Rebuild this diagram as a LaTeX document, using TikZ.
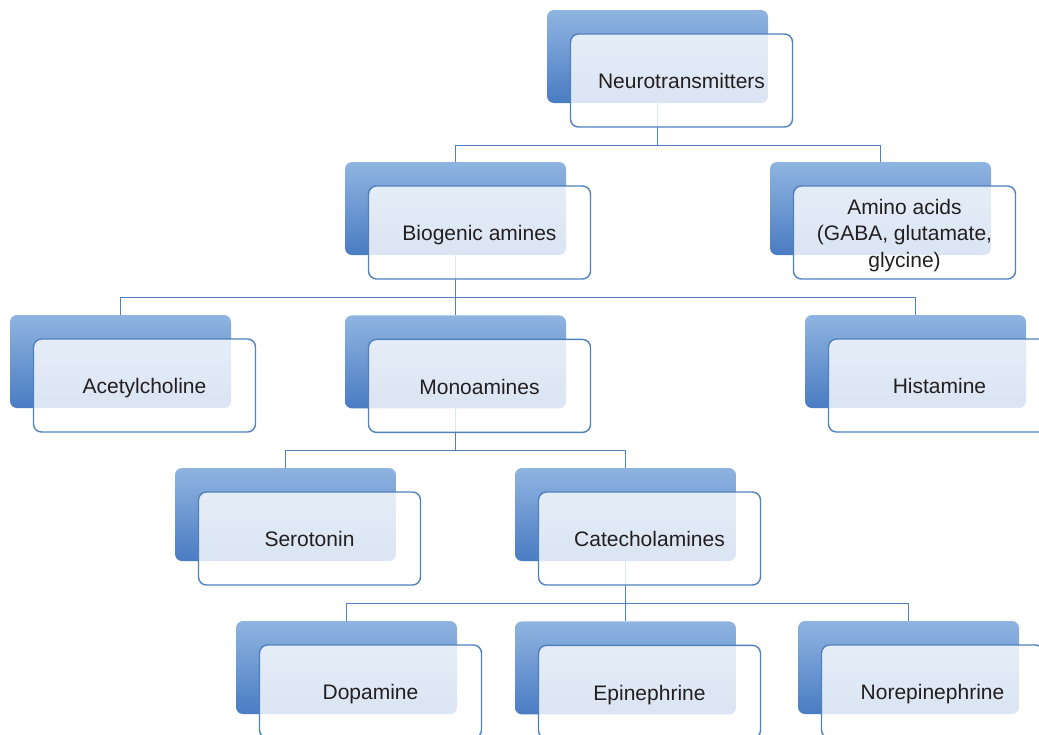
\documentclass[tikz,border=0pt]{standalone}
\usepackage{fontspec}
\setmainfont{Liberation Sans}
\usetikzlibrary{positioning,backgrounds}
\definecolor{boxtop}{HTML}{8FB4E0}
\definecolor{boxbottom}{HTML}{4A7CC3}
\definecolor{edge}{HTML}{4F81BD}
\definecolor{ink}{HTML}{231F20}
\tikzset{
  backbox/.style={top color=boxtop,bottom color=boxbottom,draw=none,rounded corners=7pt,
    minimum width=221pt,minimum height=93pt,inner sep=0pt},
  frontbox/.style={draw=edge,line width=1.4pt,fill=white,fill opacity=0.8,text opacity=1,
    rounded corners=8pt,minimum width=222pt,minimum height=93pt,inner sep=0pt,
    text height=21pt,text depth=4.5pt,
    align=center,font=\fontsize{21}{26.5}\selectfont,text=ink},
  link/.style={draw=edge,line width=1.4pt},
}
\begin{document}
\begin{tikzpicture}[x=1pt,y=1pt]
  \useasboundingbox (0,0) rectangle (1039,-734);

  % shaded back plates
  \node[backbox] (nt) at (657.5,-56.5) {};
  \node[backbox] (bio) at (455.5,-208.5) {};
  \node[backbox] (amino) at (880.5,-208.5) {};
  \node[backbox] (ach) at (120.5,-361.5) {};
  \node[backbox, below=60pt of bio] (mono) {};
  \node[backbox] (hist) at (915.5,-361.5) {};
  \node[backbox] (sero) at (285.5,-514.5) {};
  \node[backbox] (cat) at (625.5,-514.5) {};
  \node[backbox] (dopa) at (346.5,-667.5) {};
  \node[backbox, below=60pt of cat] (epi) {};
  \node[backbox] (norepi) at (908.5,-667.5) {};

  % labelled front cards
  \node[frontbox] (ntF) at ([shift={(24,-24)}]nt) {Neurotransmitters};
  \node[frontbox,text height=74pt,text depth=5pt] (aminoF) at ([shift={(24,-24)}]amino) {Amino acids\\(GABA, glutamate,\\glycine)};
  \node[frontbox] (bioF) at ([shift={(24,-24)}]bio) {Biogenic amines};
  \node[frontbox] (achF) at ([shift={(24,-24)}]ach) {Acetylcholine};
  \node[frontbox] (monoF) at ([shift={(24,-24)}]mono) {Monoamines};
  \node[frontbox] (histF) at ([shift={(24,-24)}]hist) {Histamine};
  \node[frontbox] (seroF) at ([shift={(24,-24)}]sero) {Serotonin};
  \node[frontbox] (catF) at ([shift={(24,-24)}]cat) {Catecholamines};
  \node[frontbox] (dopaF) at ([shift={(24,-24)}]dopa) {Dopamine};
  \node[frontbox] (epiF) at ([shift={(24,-24)}]epi) {Epinephrine};
  \node[frontbox] (norepiF) at ([shift={(24,-24)}]norepi) {Norepinephrine};

  % tree links, behind the cards
  \begin{scope}[on background layer]
    \draw[link] (nt.south) -- ++(0,-42) -| (bio.north);
    \draw[link] (nt.south) -- ++(0,-42) -| (amino.north);
    \draw[link] (bio.south) -- ++(0,-42) -| (ach.north);
    \draw[link] (bio.south) -- (mono.north);
    \draw[link] (bio.south) -- ++(0,-42) -| (hist.north);
    \draw[link] (mono.south) -- ++(0,-42) -| (sero.north);
    \draw[link] (mono.south) -- ++(0,-42) -| (cat.north);
    \draw[link] (cat.south) -- ++(0,-42) -| (dopa.north);
    \draw[link] (cat.south) -- (epi.north);
    \draw[link] (cat.south) -- ++(0,-42) -| (norepi.north);
  \end{scope}
\end{tikzpicture}
\end{document}
